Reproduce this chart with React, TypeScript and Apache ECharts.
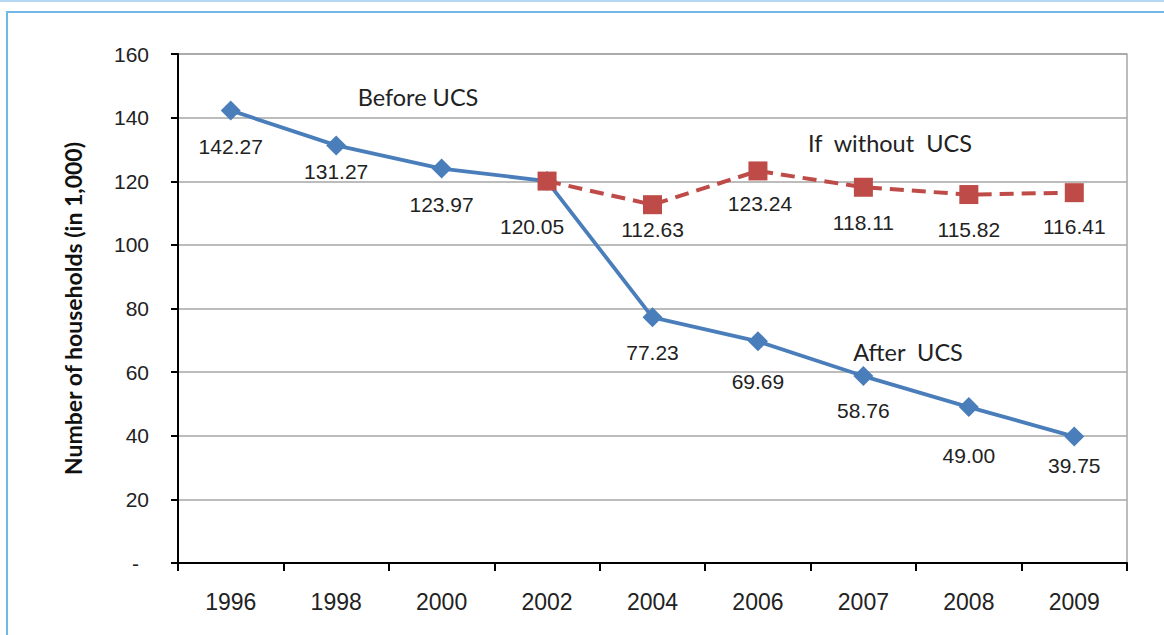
import React, { useEffect, useRef } from "react";
import * as echarts from "echarts";

const categories = ["1996", "1998", "2000", "2002", "2004", "2006", "2007", "2008", "2009"];
const afterUCS = [142.27, 131.27, 123.97, 120.05, 77.23, 69.69, 58.76, 49.0, 39.75];
const withoutUCS = [null, null, null, 120.05, 112.63, 123.24, 118.11, 115.82, 116.41];
const yTicks = [0, 20, 40, 60, 80, 100, 120, 140, 160];

// label offsets relative to each point (dx, dy), null hides the label
const afterLabelOffsets: ([number, number] | null)[] = [
  [0, 36], [0, 26], [0, 36], null, [0, 35], [0, 40], [0, 34], [0, 48], [0, 29],
];
const withoutLabelOffsets: ([number, number] | null)[] = [
  null, null, null, [-15, 45], [0, 25], [2, 33], [0, 35], [0, 35], [0, 34],
];

const annotations = [
  { text: "Before UCS", x: 418, y: 97 },
  { text: "If  without  UCS", x: 890, y: 143 },
  { text: "After  UCS", x: 908, y: 352 },
];

const BLUE = "#4a7ebb";
const RED = "#be4b48";
const TEXT = "#222222";
const SANS = "Liberation Sans, Arial, sans-serif";

function buildData(values: (number | null)[], offsets: ([number, number] | null)[]) {
  return values.map((v, i) => {
    const off = offsets[i];
    if (v === null) return { value: null };
    return off
      ? { value: v, label: { show: true, offset: off } }
      : { value: v, label: { show: false } };
  });
}

export default function App() {
  const ref = useRef<HTMLDivElement>(null);
  useEffect(() => {
    if (!ref.current) return;
    const chart = echarts.init(ref.current, null, { renderer: "svg" });
    const labelBase = {
      position: "inside",
      color: TEXT,
      fontFamily: SANS,
      fontSize: 21,
      formatter: (p: any) => Number(p.value).toFixed(2),
    };
    chart.setOption({
      animation: false,
      backgroundColor: "#ffffff",
      grid: {
        left: 178,
        right: 37,
        top: 54,
        bottom: 72,
        show: true,
        borderColor: "#a6a6a6",
        borderWidth: 1.5,
      },
      xAxis: {
        type: "category",
        data: categories,
        boundaryGap: true,
        axisLine: { show: true, lineStyle: { color: "#000", width: 2 } },
        axisTick: { show: true, length: 8, lineStyle: { color: "#000", width: 2 } },
        axisLabel: {
          color: TEXT,
          fontSize: 23,
          fontFamily: SANS,
          margin: 27,
        },
        splitLine: { show: false },
      },
      yAxis: {
        type: "value",
        min: yTicks[0],
        max: yTicks[yTicks.length - 1],
        interval: 20,
        axisLine: { show: true, lineStyle: { color: "#000", width: 2 } },
        axisTick: { show: true, length: 7, lineStyle: { color: "#000", width: 2 } },
        axisLabel: {
          color: TEXT,
          fontSize: 21,
          fontFamily: SANS,
          margin: 29,
          formatter: (v: number) => (v === 0 ? "{d|-}" : String(v)),
          rich: {
            d: {
              fontSize: 21,
              color: TEXT,
              fontFamily: SANS,
              padding: [0, 10, 0, 0],
            },
          },
        },
        splitLine: { show: true, lineStyle: { color: "#a6a6a6", width: 1.5 } },
        name: "Number of households (in 1,000)",
        nameLocation: "middle",
        nameGap: 94,
        nameRotate: 90,
        nameTextStyle: {
          color: "#111",
          fontSize: 23,
          fontWeight: "bold",
          fontFamily: "Lato, sans-serif",
        },
      },
      series: [
        {
          name: "After UCS",
          type: "line",
          data: buildData(afterUCS, afterLabelOffsets),
          symbol: "diamond",
          symbolSize: 20,
          itemStyle: { color: BLUE },
          lineStyle: { color: BLUE, width: 3.8 },
          label: { ...labelBase },
          z: 2,
        },
        {
          name: "If without UCS",
          type: "line",
          data: buildData(withoutUCS, withoutLabelOffsets),
          symbol: "rect",
          symbolSize: 19,
          itemStyle: { color: RED },
          lineStyle: { color: RED, width: 4, type: [14, 8] },
          label: { ...labelBase },
          z: 3,
        },
      ],
      graphic: [
        {
          type: "line",
          shape: { x1: 0, y1: 1, x2: 1164, y2: 1 },
          style: { stroke: "#9ccbee", lineWidth: 1.5 },
        },
        {
          type: "rect",
          shape: { x: 7, y: 12, width: 1300, height: 800 },
          style: { stroke: "#72b8e6", lineWidth: 2, fill: "none" },
        },
        ...annotations.map((a) => ({
          type: "text",
          x: a.x,
          y: a.y,
          style: {
            text: a.text,
            fill: TEXT,
            fontSize: 23.5,
            fontFamily: "Lato, sans-serif",
            align: "center",
            verticalAlign: "middle",
          },
        })),
      ],
    });
    return () => chart.dispose();
  }, []);
  return (
    <div
      ref={ref}
      style={{ position: "absolute", left: 0, top: 0, width: 1164, height: 635 }}
    />
  );
}
